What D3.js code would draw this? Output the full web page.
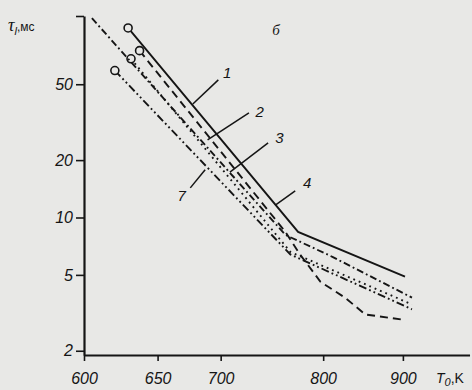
<!DOCTYPE html>
<html>
<head>
<meta charset="utf-8">
<script src="https://d3js.org/d3.v7.min.js"></script>
<style>
  body { margin: 0; background: #e8e8e6; }
  svg { display: block; }
  text { font-family: "Liberation Sans", Arial, sans-serif; font-style: italic; fill: #151515; }
</style>
</head>
<body>
<svg id="chart" width="472" height="390"></svg>
<script>
// temperatures T0 (K) and delay times tau (ms)
var t1 = [629, 773, 903],                    tau1 = [98.7, 8.4, 4.9];
var t2 = [637, 760, 775, 797, 825, 850, 903], tau2 = [75, 8.4, 6.4, 4.6, 3.8, 3.1, 2.9];
var t3 = [631, 765, 913],                    tau3 = [68, 6.6, 3.5];
var t4 = [605, 760, 811, 913],               tau4 = [111, 8.1, 6.2, 3.8];
var t7 = [620, 765, 913],                    tau7 = [59, 6.4, 3.3];

var xTicks = [600, 650, 700, 800, 900];
var yTicks = [2, 5, 10, 20, 50, 114];

// curve labels: leader start/end and text position, in data units
var labels = ["1", "2", "3", "4", "7"];
var leadT = [[677, 698], [689, 725], [708, 743], [750, 770], [675, 687]];
var leadTau = [[39.4, 52.7], [25.5, 35.4], [17.3, 24.6], [11.6, 13.8], [14.3, 17.8]];
var labT = [702, 731, 750, 778, 665];
var labTau = [54, 33.7, 24.6, 14.3, 12.2];

var ink = "#151515", bg = "#e8e8e6";
var svg = d3.select("#chart");

// x is linear in 1000/T (Arrhenius axis)
var x = d3.scaleLinear().domain([1000 / 600, 1000 / 1005]).range([84, 84 + (1000 / 600 - 1000 / 1005) * 574]);
var y = d3.scaleLog().domain([1.9, 114]).range([355, 16]);

var xAxis = svg.append("g")
    .attr("transform", "translate(0,355)")
    .call(d3.axisBottom(x)
      .tickValues(xTicks.map(function(t) { return 1000 / t; }))
      .tickFormat(function(d, i) { return xTicks[i]; })
      .tickSize(6).tickSizeOuter(0).tickPadding(12));

var yAxis = svg.append("g")
    .attr("transform", "translate(84,0)")
    .call(d3.axisLeft(y)
      .tickValues(yTicks)
      .tickFormat(function(d) { return d === 114 ? "" : d; })
      .tickSize(8).tickSizeOuter(0).tickPadding(3));

[xAxis, yAxis].forEach(function(a) {
  a.select(".domain").attr("stroke", ink).attr("stroke-width", 2.2);
  a.selectAll(".tick line").attr("stroke", ink).attr("stroke-width", 1.6);
  a.selectAll(".tick text").attr("font-size", 16).attr("fill", ink)
    .style("font-family", "Liberation Sans, Arial, sans-serif").style("font-style", "italic");
});

var line = d3.line()
  .x(function(d) { return x(1000 / d[0]); })
  .y(function(d) { return y(d[1]); });

var series = [
  { t: t1, tau: tau1, dash: null, circle: true },
  { t: t2, tau: tau2, dash: "8,5", circle: true },
  { t: t3, tau: tau3, dash: "1.8,4", circle: true },
  { t: t4, tau: tau4, dash: "7,3,1.8,3", circle: false },
  { t: t7, tau: tau7, dash: "8,3,1.8,3,1.8,3", circle: true }
];

series.forEach(function(s) {
  var pts = d3.zip(s.t, s.tau);
  svg.append("path")
    .attr("d", line(pts))
    .attr("fill", "none")
    .attr("stroke", ink)
    .attr("stroke-width", 1.9)
    .attr("stroke-dasharray", s.dash);
  if (s.circle) {
    svg.append("circle")
      .attr("cx", x(1000 / pts[0][0]))
      .attr("cy", y(pts[0][1]))
      .attr("r", 4)
      .attr("fill", bg)
      .attr("stroke", ink)
      .attr("stroke-width", 1.6);
  }
});

// leaders and curve numbers
labels.forEach(function(l, i) {
  svg.append("line")
    .attr("x1", x(1000 / leadT[i][0])).attr("y1", y(leadTau[i][0]))
    .attr("x2", x(1000 / leadT[i][1])).attr("y2", y(leadTau[i][1]))
    .attr("stroke", ink).attr("stroke-width", 1.5);
  svg.append("text")
    .attr("x", x(1000 / labT[i])).attr("y", y(labTau[i]))
    .attr("font-size", 15)
    .text(l);
});

// panel letter
svg.append("text").attr("x", x(1000 / 747)).attr("y", y(90.7))
  .attr("font-size", 15).style("font-family", "Liberation Serif, serif").text("б");

// axis titles
var yt = svg.append("text").attr("x", 8).attr("y", 31).attr("font-size", 12);
yt.append("tspan").attr("font-size", 18).style("font-family", "Liberation Serif, serif").text("τ");
yt.append("tspan").attr("font-size", 11).attr("dy", 4).text("l");
yt.append("tspan").attr("dy", -4).style("font-style", "normal").text(",мс");

var xt = svg.append("text").attr("x", 436).attr("y", 383).attr("font-size", 14);
xt.append("tspan").text("T");
xt.append("tspan").attr("font-size", 11).attr("dy", 3).text("0");
xt.append("tspan").attr("dy", -3).style("font-style", "normal").text(",K");
</script>
</body>
</html>
